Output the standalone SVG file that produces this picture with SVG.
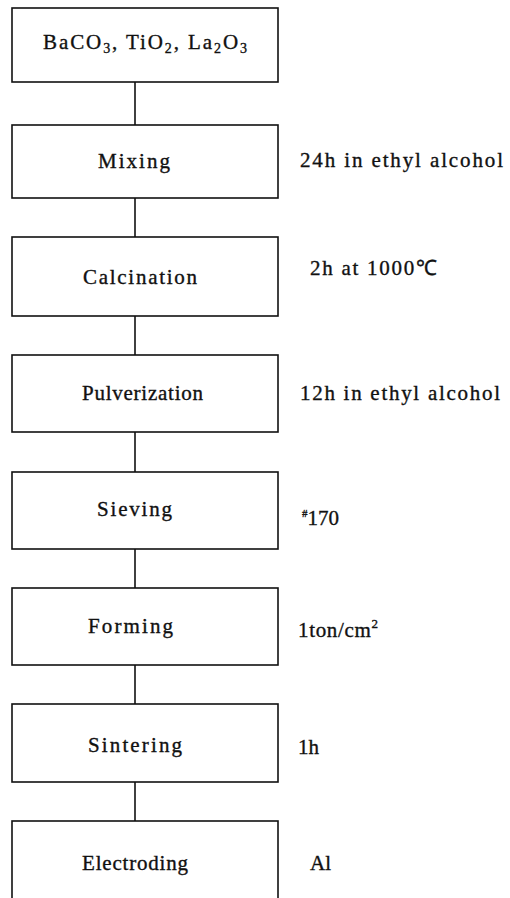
<svg xmlns="http://www.w3.org/2000/svg" width="510" height="898" viewBox="0 0 510 898">
<style>
.box{fill:#fff;stroke:#111;stroke-width:1.6}
.conn{stroke:#111;stroke-width:1.6;fill:none}
text{font-family:"Liberation Serif","Times New Roman",serif;font-size:21px;fill:#111;stroke:#111;stroke-width:0.35}
</style>
<rect width="510" height="898" fill="#fff"/>
<g id="connectors">
<line class="conn" x1="135" y1="82" x2="135" y2="125"/>
<line class="conn" x1="135" y1="198" x2="135" y2="237"/>
<line class="conn" x1="135" y1="316" x2="135" y2="355"/>
<line class="conn" x1="135" y1="432" x2="135" y2="472"/>
<line class="conn" x1="135" y1="549" x2="135" y2="588"/>
<line class="conn" x1="135" y1="665" x2="135" y2="704"/>
<line class="conn" x1="135" y1="782" x2="135" y2="821"/>
</g>
<g id="n0">
<rect class="box" x="12" y="8" width="266" height="74"/>
<text x="43" y="49" textLength="204">BaCO<tspan font-size="14" dy="4">3</tspan><tspan dy="-4">, TiO</tspan><tspan font-size="14" dy="4">2</tspan><tspan dy="-4">, La</tspan><tspan font-size="14" dy="4">2</tspan><tspan dy="-4">O</tspan><tspan font-size="14" dy="4">3</tspan></text>
</g>
<g id="n1">
<rect class="box" x="12" y="125" width="266" height="73"/>
<text x="98" y="168" textLength="72">Mixing</text>
<text x="300" y="167" textLength="203">24h in ethyl alcohol</text>
</g>
<g id="n2">
<rect class="box" x="12" y="237" width="266" height="79"/>
<text x="83" y="284" textLength="114">Calcination</text>
<text x="310" y="275" textLength="127">2h at 1000℃</text>
</g>
<g id="n3">
<rect class="box" x="12" y="355" width="266" height="77"/>
<text x="82" y="400" textLength="121">Pulverization</text>
<text x="300" y="400" textLength="200">12h in ethyl alcohol</text>
</g>
<g id="n4">
<rect class="box" x="12" y="472" width="266" height="77"/>
<text x="97" y="516" textLength="75">Sieving</text>
<text x="302" y="525"><tspan font-size="11" dy="-8">#</tspan><tspan dy="8">170</tspan></text>
</g>
<g id="n5">
<rect class="box" x="12" y="588" width="266" height="77"/>
<text x="88" y="633" textLength="85">Forming</text>
<text x="298" y="637" textLength="80">1ton/cm<tspan font-size="13" dy="-9">2</tspan></text>
</g>
<g id="n6">
<rect class="box" x="12" y="704" width="266" height="78"/>
<text x="88" y="752" textLength="94">Sintering</text>
<text x="298" y="754">1h</text>
</g>
<g id="n7">
<rect class="box" x="12" y="821" width="266" height="80"/>
<text x="82" y="870" textLength="106">Electroding</text>
<text x="310" y="870">Al</text>
</g>
</svg>
